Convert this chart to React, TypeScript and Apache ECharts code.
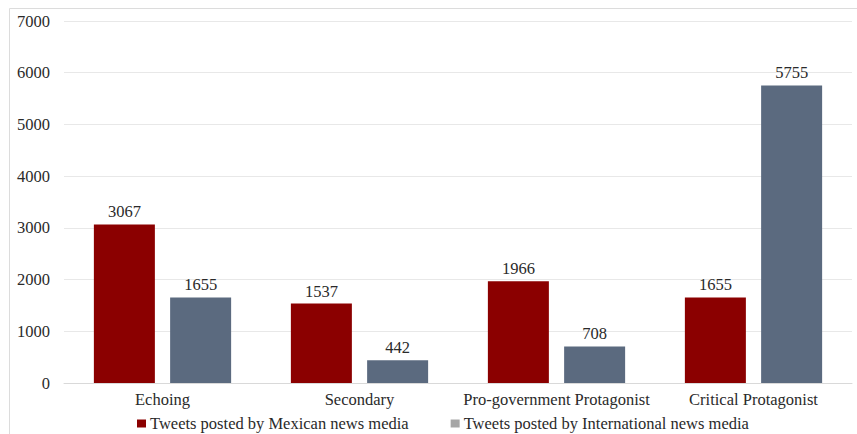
import React, { useEffect, useRef } from "react";
import * as echarts from "echarts";

const categories = ["Echoing", "Secondary", "Pro-government Protagonist", "Critical Protagonist"];
const mexicanValues = [3067, 1537, 1966, 1655];
const internationalValues = [1655, 442, 708, 5755];
const seriesNames = ["Tweets posted by Mexican news media", "Tweets posted by International news media"];
const yTicks = { min: 0, max: 7000, interval: 1000 };

const FONT = "'Liberation Serif', 'Times New Roman', serif";
const TEXT = "#2a2a2a";
const FS = 16.5;

export default function App() {
  const ref = useRef<HTMLDivElement>(null);
  useEffect(() => {
    if (!ref.current) return;
    const chart = echarts.init(ref.current, null, { renderer: "svg" });
    chart.setOption({
      animation: false,
      backgroundColor: "#ffffff",
      textStyle: { fontFamily: FONT },
      grid: { left: 64, right: 5, top: 21, bottom: 51, containLabel: false },
      graphic: [
        {
          type: "rect",
          shape: { x: 9.5, y: 8.5, width: 900, height: 500 },
          style: { fill: "none", stroke: "#dcdcdc", lineWidth: 1 },
          silent: true,
        },
      ],
      legend: {
        left: 132,
        top: 410,
        itemWidth: 9,
        itemHeight: 8,
        itemGap: 42,
        icon: "rect",
        textStyle: { fontFamily: FONT, fontSize: FS, color: TEXT, padding: [0, 0, 0, -1] },
        data: [
          { name: seriesNames[0], itemStyle: { color: "#8b0000" } },
          { name: seriesNames[1], itemStyle: { color: "#a6a6a6" } },
        ],
      },
      xAxis: {
        type: "category",
        data: categories,
        axisLine: { show: true, lineStyle: { color: "#d9d9d9", width: 1 } },
        axisTick: { show: false },
        axisLabel: { fontFamily: FONT, fontSize: FS, color: TEXT, margin: 8, interval: 0 },
      },
      yAxis: {
        type: "value",
        min: yTicks.min,
        max: yTicks.max,
        interval: yTicks.interval,
        axisLine: { show: false },
        axisTick: { show: false },
        splitLine: { lineStyle: { color: "#e8e8e8", width: 1 } },
        axisLabel: {
          fontFamily: FONT,
          fontSize: FS,
          color: TEXT,
          margin: 14,
          formatter: (v: number) => String(v),
        },
      },
      series: [
        {
          name: seriesNames[0],
          type: "bar",
          data: mexicanValues,
          barWidth: 61,
          barGap: "25%",
          itemStyle: { color: "#8b0000" },
          label: { show: true, position: "top", distance: 4, fontFamily: FONT, fontSize: FS, color: TEXT },
        },
        {
          name: seriesNames[1],
          type: "bar",
          data: internationalValues,
          barWidth: 61,
          barGap: "25%",
          itemStyle: { color: "#5b6a7f" },
          label: { show: true, position: "top", distance: 4, fontFamily: FONT, fontSize: FS, color: TEXT },
        },
      ],
    });
    return () => chart.dispose();
  }, []);
  return (
    <div
      ref={ref}
      style={{ position: "fixed", left: 0, top: 0, width: 857, height: 434 }}
    />
  );
}
